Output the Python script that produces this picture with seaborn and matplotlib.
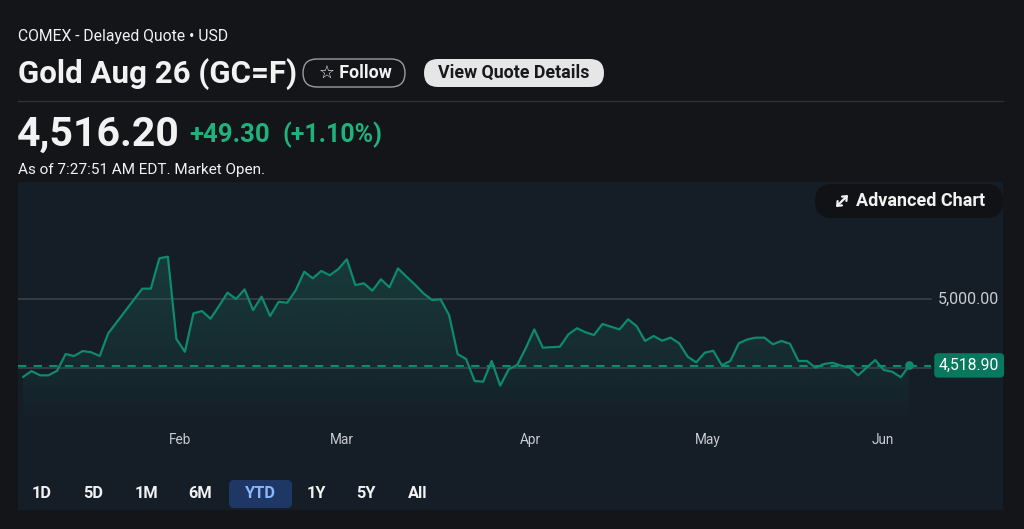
import numpy as np
import pandas as pd
import matplotlib
matplotlib.use("Agg")
import matplotlib.pyplot as plt
import seaborn as sns
from matplotlib.patches import FancyBboxPatch, Rectangle, FancyArrowPatch
from matplotlib.transforms import Affine2D, blended_transform_factory
from matplotlib.colors import to_rgb

# Gold Aug 26 (GC=F) YTD daily prices
prices = [
    4435, 4478, 4447, 4447, 4480, 4601, 4587, 4623, 4614, 4587,
    4751, 4832, 4913, 4994, 5075, 5075, 5295, 5307, 4710, 4618,
    4896, 4913, 4857, 4949, 5046, 5000, 5070, 4920, 5017, 4877,
    4980, 4973, 5063, 5198, 5150, 5203, 5172, 5217, 5288, 5101,
    5114, 5060, 5143, 5085, 5222, 5162, 5104, 5041, 4993, 4998,
    4884, 4601, 4565, 4406, 4401, 4551, 4372, 4491, 4522, 4644,
    4780, 4647, 4651, 4654, 4744, 4788, 4759, 4739, 4819, 4799,
    4780, 4853, 4804, 4696, 4732, 4698, 4720, 4679, 4582, 4541,
    4611, 4625, 4520, 4551, 4679, 4707, 4720, 4720, 4672, 4696,
    4676, 4551, 4551, 4502, 4529, 4538, 4517, 4504, 4447, 4503,
    4558, 4486, 4473, 4433, 4518.9,
]
month_names = ["Feb", "Mar", "Apr", "May", "Jun"]
month_pos = [18.4, 37.4, 59.6, 80.4, 100.9]  # trading-day index of month start
grid_levels = [5000, 4500]
ref_price = 4516.2
last_price = 4518.90
ranges = ["1D", "5D", "1M", "6M", "YTD", "1Y", "5Y", "All"]

df = pd.DataFrame({"day": np.arange(len(prices)), "price": prices})

# colours
BG = "#131519"
PANEL = "#151d27"
TXT = "#f2f2f2"
SUB = "#c9ccd1"
GREEN = "#1fb27c"
LINE = "#0e8a6c"
BOX = "#08795e"
GRID = "#3a3e44"

sns.set_theme(style="dark")
plt.rcParams["font.family"] = ["Roboto", "DejaVu Sans"]

W, H = 1024, 529
fig = plt.figure(figsize=(W / 100, H / 100), dpi=100)
fig.patch.set_facecolor(BG)
PX = Affine2D().scale(1, -1).translate(0, H)  # pixel coords, origin top-left


def label(x, y, s, size, color=TXT, weight="normal", ha="left", **kw):
    return fig.text(x, y, s, transform=PX, fontsize=size, color=color,
                    fontweight=weight, ha=ha, va="center", **kw)


def pill(x0, y0, x1, y1, fc, ec="none", r=13, z=1):
    p = FancyBboxPatch((x0 + r, y0 + r), x1 - x0 - 2 * r, y1 - y0 - 2 * r,
                       boxstyle=f"round,pad={r}", transform=PX, fc=fc, ec=ec,
                       lw=1, zorder=z)
    fig.add_artist(p)


# header
label(18, 36, "COMEX - Delayed Quote \u2022 USD", 11.3, color=TXT)
label(18, 74, "Gold Aug 26 (GC=F)", 22.5, weight="bold")
pill(303, 59, 405, 87, fc=BG, ec="#9a9ea4", r=14)
label(355, 73, "\u2606 Follow", 12.8, weight="bold", ha="center")
pill(424, 59, 604, 87, fc="#e6e6e6", r=14)
label(514, 73, "View Quote Details", 12.8, color="#16181b", weight="bold", ha="center")
fig.add_artist(plt.Line2D([18, 1003], [101, 101], transform=PX, color="#2e3237", lw=1))

label(17, 135, "4,516.20", 29.5, weight="bold")
label(189, 135, "+49.30", 18.5, color=GREEN, weight="bold")
label(283, 135, "(+1.10%)", 18, color=GREEN, weight="bold")
label(18, 170, "As of 7:27:51 AM EDT. Market Open.", 11)

# chart panel
fig.add_artist(Rectangle((18, 182), 985, 328, transform=PX, fc=PANEL, ec="none", zorder=-1))

ax = fig.add_axes([18 / W, (H - 425) / H, 985 / W, (425 - 182) / H])
ax.set_facecolor("none")
ymin, ymax = 4087, 5848
ax.set_xlim(-0.587, 115.0)
ax.set_ylim(ymin, ymax)

for lvl in grid_levels:
    ax.axhline(lvl, xmin=0, xmax=0.927, color=GRID, lw=1.3, zorder=1)
ax.axhline(ref_price, xmin=0, xmax=0.927, color=LINE, lw=1.5,
           ls=(0, (4, 3.5)), zorder=2)

# gradient area under the line, fading out towards the bottom
poly = ax.fill_between(df["day"], df["price"], ymin, color="none", lw=0)
grad = np.zeros((200, 1, 4))
grad[..., :3] = to_rgb("#1d6b5a")
grad[:, 0, 3] = np.linspace(0.42, 0.0, 200) ** 0.8
im = ax.imshow(grad, extent=[0, len(prices) - 1, ymin, ymax], origin="upper",
               aspect="auto", zorder=1.5, interpolation="bilinear")
im.set_clip_path(poly.get_paths()[0], transform=ax.transData)

sns.lineplot(data=df, x="day", y="price", ax=ax, color=LINE, lw=1.6, zorder=3)
ax.scatter([df["day"].iloc[-1]], [last_price], s=28, color=LINE, zorder=4)

trans = blended_transform_factory(ax.transAxes, ax.transData)
ax.text(0.934, 5000, "5,000.00", transform=trans, fontsize=11.5, color=SUB,
        va="center", ha="left")
ax.text(0.935, last_price, f"{last_price:,.2f}", transform=trans, fontsize=11.3,
        color="white", va="center", ha="left",
        bbox=dict(boxstyle="round,pad=0.3,rounding_size=0.25", fc=BOX, ec="none"))

ax.set_xticks(month_pos, month_names)
ax.set_yticks([])
ax.tick_params(axis="x", length=0, pad=6, labelsize=9.8, labelcolor=SUB)
ax.set_xlabel("")
ax.set_ylabel("")
ax.grid(False)
for s in ax.spines.values():
    s.set_visible(False)

# advanced chart pill (expand icon drawn as a two-headed arrow)
pill(815, 184, 1003, 218, fc="#101215", r=17, z=3)
fig.add_artist(FancyArrowPatch((836, 207), (848, 195), transform=PX,
                               arrowstyle="<->,head_length=2.6,head_width=2.2",
                               color=TXT, lw=1.6, zorder=4, shrinkA=0, shrinkB=0))
label(856, 201, "Advanced Chart", 13, weight="bold", zorder=4)

# range selector
pill(229, 480, 292, 508, fc="#1f3764", r=5)
range_x = [42, 93, 146, 200, 260, 316, 366, 418]
for name, x in zip(ranges, range_x):
    c = "#8ab8ff" if name == "YTD" else TXT
    label(x, 494, name, 11.8, color=c, weight="bold", ha="center")

fig.savefig("out.png", dpi=100, facecolor=BG)
